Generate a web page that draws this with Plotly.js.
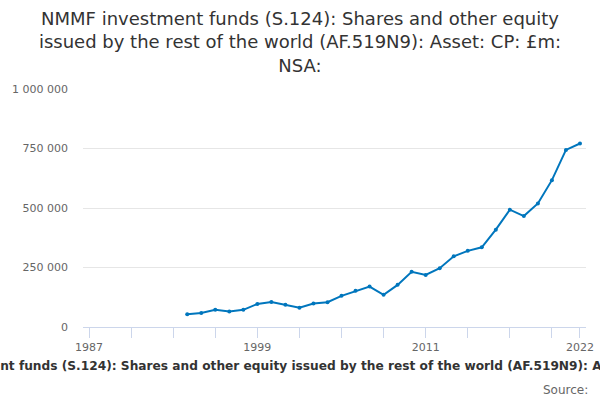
<!DOCTYPE html>
<html>
<head>
<meta charset="utf-8">
<script src="https://cdn.plot.ly/plotly-3.0.1.min.js"></script>
<style>
  html, body { margin: 0; padding: 0; background: #fff; }
  #plot { width: 600px; height: 400px; }
</style>
</head>
<body>
<div id="plot"></div>
<script>
// DATA =========================================================
var years = [1994, 1995, 1996, 1997, 1998, 1999, 2000, 2001, 2002, 2003,
             2004, 2005, 2006, 2007, 2008, 2009, 2010, 2011, 2012, 2013,
             2014, 2015, 2016, 2017, 2018, 2019, 2020, 2021, 2022];
var values = [54000, 59000, 72000, 65000, 72000, 97000, 105000, 94000, 81000, 99000,
              104000, 131000, 152000, 170000, 135000, 177000, 232000, 219000, 247000, 297000,
              320000, 335000, 409000, 493000, 466000, 519000, 617000, 744000, 771000];

var tickYears = [1987, 1990, 1993, 1996, 1999, 2002, 2005, 2008, 2011, 2014, 2017, 2020, 2022];
var labelYears = [1987, 1999, 2011, 2022];

var titleText = 'NMMF investment funds (S.124): Shares and other equity<br>issued by the rest of the world (AF.519N9): Asset: CP: £m:<br>NSA:';
var axisText = 'NMMF investment funds (S.124): Shares and other equity issued by the rest of the world (AF.519N9): Asset: CP: £m: NSA:';

// PLOT =========================================================
var tickText = tickYears.map(function (y) {
    return labelYears.indexOf(y) >= 0 ? String(y) : '';
});

var data = [{
    x: years,
    y: values,
    type: 'scatter',
    mode: 'lines+markers',
    line: { color: '#0076bd', width: 2 },
    marker: { color: '#0076bd', size: 4 },
    showlegend: false,
    hoverinfo: 'x+y'
}];

var layout = {
    width: 600,
    height: 400,
    font: { family: 'DejaVu Sans', color: '#666666', size: 11 },
    separators: '. ',
    paper_bgcolor: '#ffffff',
    plot_bgcolor: '#ffffff',
    title: {
        text: titleText,
        font: { family: 'DejaVu Sans', size: 18, color: '#333333' },
        x: 0.5,
        xref: 'container',
        y: 0.938,
        yref: 'container',
        yanchor: 'middle'
    },
    xaxis: {
        range: [1986.57, 2022.43],
        tickmode: 'array',
        tickvals: tickYears,
        ticktext: tickText,
        ticks: 'outside',
        ticklen: 10,
        tickcolor: '#ccd6eb',
        tickwidth: 1,
        showline: true,
        linecolor: '#ccd6eb',
        linewidth: 1,
        showgrid: false,
        zeroline: false,
        tickfont: { size: 11, color: '#666666' }
    },
    yaxis: {
        range: [0, 1000000],
        tickmode: 'array',
        tickvals: [0, 250000, 500000, 750000, 1000000],
        tickformat: ',d',
        showgrid: true,
        gridcolor: '#e6e6e6',
        zeroline: false,
        showline: false,
        ticks: '',
        ticklabelstandoff: 14,
        tickfont: { size: 11, color: '#666666' }
    },
    annotations: [
        {
            text: '<b>' + axisText + '</b>',
            xref: 'paper', yref: 'paper',
            x: 0.451, y: -0.164,
            xanchor: 'center', yanchor: 'middle',
            showarrow: false,
            font: { size: 12.2, color: '#333333' }
        },
        {
            text: 'Source:',
            xref: 'paper', yref: 'paper',
            x: 1.008, y: -0.265,
            xanchor: 'right', yanchor: 'middle',
            showarrow: false,
            font: { size: 12, color: '#666666' }
        }
    ],
    margin: { t: 89, b: 73, l: 83, r: 14 }
};

Plotly.newPlot('plot', data, layout, { displayModeBar: false, staticPlot: true });
</script>
</body>
</html>
